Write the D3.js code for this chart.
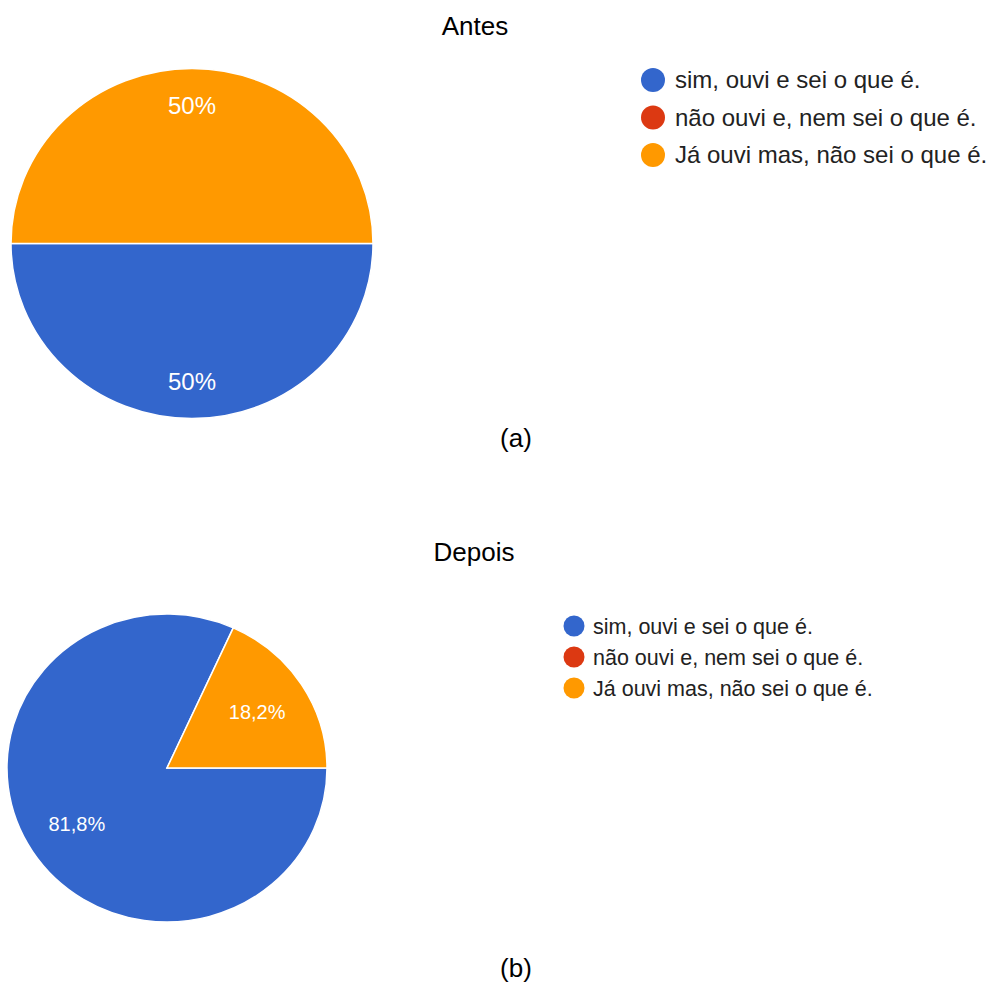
<!DOCTYPE html>
<html>
<head>
<meta charset="utf-8">
<script src="https://cdn.jsdelivr.net/npm/d3@7"></script>
<style>
  html, body { margin: 0; padding: 0; background: #fff; }
  svg { display: block; font-family: "Liberation Sans", Arial, sans-serif; }
</style>
</head>
<body>
<svg id="chart" width="992" height="986"></svg>
<script>
// Answer categories shared by both pies
const categories = [
  "sim, ouvi e sei o que é.",
  "não ouvi e, nem sei o que é.",
  "Já ouvi mas, não sei o que é."
];
const colors = ["#3366CC", "#DC3912", "#FF9900"];

// Percent of answers per category
const antesValues = [50, 0, 50];
const depoisValues = [81.8, 0, 18.2];

const antesLabels = ["50%", "", "50%"];
const depoisLabels = ["81,8%", "", "18,2%"];

const titles = ["Antes", "Depois"];
const captions = ["(a)", "(b)"];

const svg = d3.select("#chart");

const panels = [
  {
    values: antesValues, labels: antesLabels, title: titles[0], caption: captions[0],
    cx: 192, cy: 243.5, rx: 181, ry: 175, labelR: 0.79, labelSize: 24,
    titleX: 475, titleY: 35, captionX: 516, captionY: 447,
    legendX: 653, legendY: 80, legendStep: 37.5, dotR: 12, legendText: 675, legendSize: 24
  },
  {
    values: depoisValues, labels: depoisLabels, title: titles[1], caption: captions[1],
    cx: 167, cy: 768, rx: 160, ry: 154, labelR: 0.67, labelSize: 20,
    titleX: 474, titleY: 561, captionX: 516, captionY: 977,
    legendX: 574, legendY: 626, legendStep: 31, dotR: 10.5, legendText: 593, legendSize: 21.5
  }
];

// Slices start at 3 o'clock and run clockwise
const pie = d3.pie()
  .sort(null)
  .value(d => d)
  .startAngle(Math.PI / 2)
  .endAngle(Math.PI / 2 + 2 * Math.PI);

panels.forEach(p => {
  const arcs = pie(p.values);
  const arc = d3.arc().innerRadius(0).outerRadius(p.rx);
  const sy = p.ry / p.rx;

  const g = svg.append("g")
    .attr("transform", `translate(${p.cx},${p.cy}) scale(1,${sy})`);

  g.selectAll("path")
    .data(arcs.filter(a => a.data > 0))
    .join("path")
    .attr("d", arc)
    .attr("fill", a => colors[a.index])
    .attr("stroke", "#fff")
    .attr("stroke-width", 1.5)
    .attr("vector-effect", "non-scaling-stroke");

  const labelArc = d3.arc().innerRadius(p.rx * p.labelR).outerRadius(p.rx * p.labelR);
  svg.append("g")
    .selectAll("text")
    .data(arcs.filter(a => a.data > 0))
    .join("text")
    .attr("x", a => p.cx + labelArc.centroid(a)[0])
    .attr("y", a => p.cy + labelArc.centroid(a)[1] * sy)
    .attr("dy", "0.36em")
    .attr("text-anchor", "middle")
    .attr("fill", "#fff")
    .attr("font-size", p.labelSize)
    .text(a => p.labels[a.index]);

  // Legend
  const lg = svg.append("g");
  const rows = lg.selectAll("g")
    .data(categories)
    .join("g")
    .attr("transform", (d, i) => `translate(0,${p.legendY + i * p.legendStep})`);
  rows.append("circle")
    .attr("cx", p.legendX)
    .attr("cy", 0)
    .attr("r", p.dotR)
    .attr("fill", (d, i) => colors[i]);
  rows.append("text")
    .attr("x", p.legendText)
    .attr("y", 0)
    .attr("dy", "0.35em")
    .attr("fill", "#222")
    .attr("font-size", p.legendSize)
    .text(d => d);

  svg.append("text")
    .attr("x", p.titleX)
    .attr("y", p.titleY)
    .attr("text-anchor", "middle")
    .attr("font-size", 26)
    .attr("fill", "#000")
    .text(p.title);

  svg.append("text")
    .attr("x", p.captionX)
    .attr("y", p.captionY)
    .attr("text-anchor", "middle")
    .attr("font-size", 26)
    .attr("fill", "#000")
    .text(p.caption);
});
</script>
</body>
</html>
